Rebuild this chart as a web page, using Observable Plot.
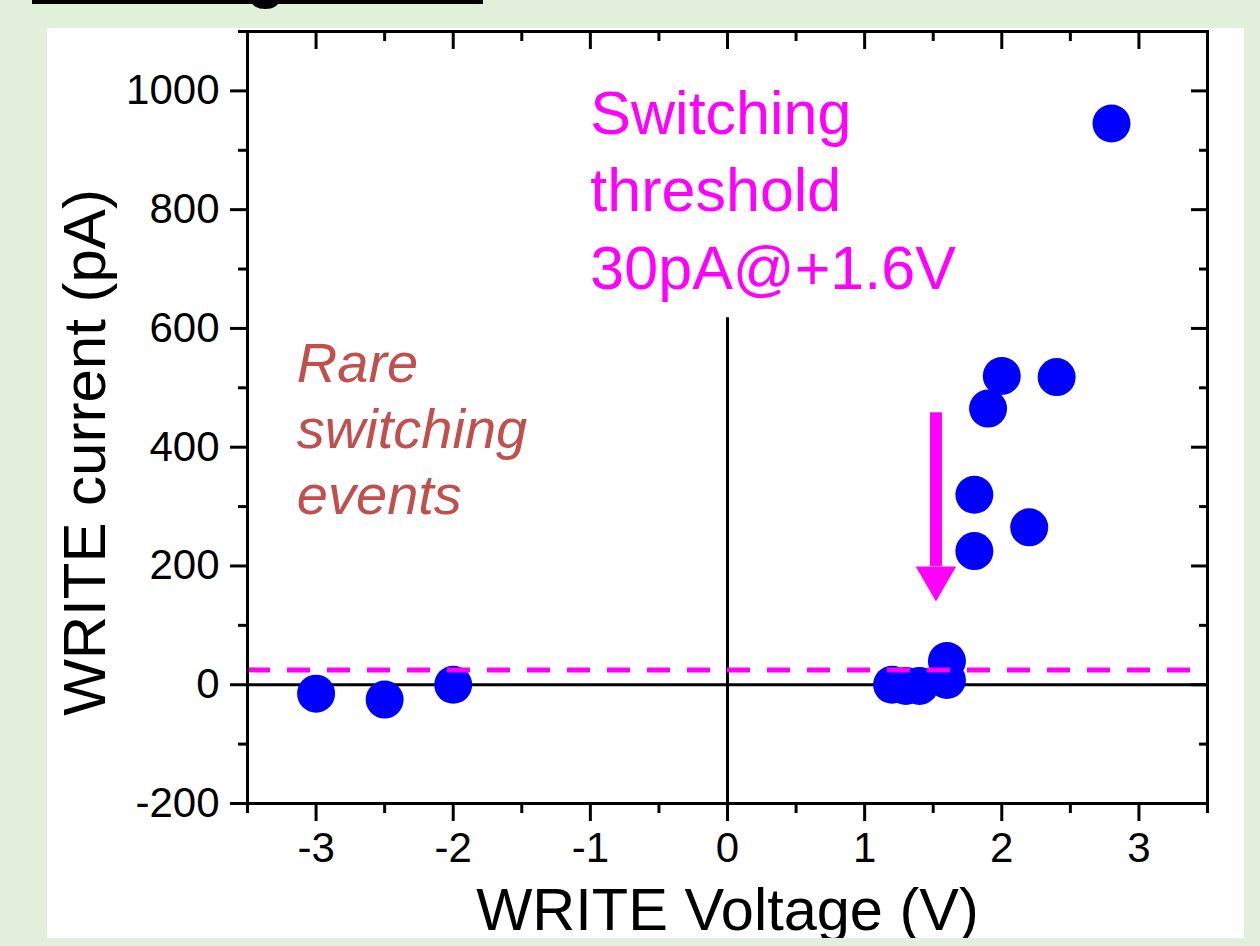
<!DOCTYPE html>
<html><head><meta charset="utf-8">
<script src="https://cdn.jsdelivr.net/npm/d3@7"></script>
<script src="https://cdn.jsdelivr.net/npm/@observablehq/plot@0.6"></script>
<style>
html,body{margin:0;padding:0;width:1260px;height:946px;overflow:hidden;background:#e2efda;font-family:"Liberation Sans",Arial,sans-serif;}
#headline{position:absolute;left:32px;top:-60px;width:451px;height:60px;border-bottom:4px solid #000;}
#headsvg{position:absolute;left:0;top:0;}
#panel{position:absolute;left:47px;top:28px;width:1197px;height:910px;background:#fff;overflow:hidden;}
#chart{position:absolute;left:-47px;top:-28px;width:1260px;height:946px;}
#chart svg{max-width:none !important;width:1260px;height:946px;}
</style></head><body>
<div id="headline"></div>
<svg id="headsvg" width="500" height="20"><text x="266" y="-4" font-family="Liberation Sans, Arial, sans-serif" font-weight="bold" font-size="62" text-anchor="middle">g</text></svg>
<div id="panel"><div id="chart"></div></div>
<script>
// ---- data ----
const voltage = [-3, -2.5, -2, 1.2, 1.3, 1.4, 1.6, 1.6, 1.8, 1.8, 1.9, 2.0, 2.2, 2.4, 2.8];
const current = [-15, -25, 0, 0, -2, -2, 8, 40, 225, 320, 465, 520, 265, 518, 945];
const threshold = [25];
const arrowX = [1.52];
const arrowTop = [458];
const arrowBase = [199];
const arrowTip = [140];
const zeroV = [0];
const zeroVTop = [618];
const xMajorTicks = [-3, -2, -1, 0, 1, 2, 3];
const xMinorTicks = [-3.5, -2.5, -1.5, -0.5, 0.5, 1.5, 2.5, 3.5];
const yMajorTicks = [-200, 0, 200, 400, 600, 800, 1000];
const yMinorTicks = [-100, 100, 300, 500, 700, 900, 1100];
const xDomain = [-3.5, 3.5];
const yDomain = [-200, 1100];
const xTitle = "WRITE Voltage (V)";
const yTitle = "WRITE current (pA)";
const thresholdText = ["Switching\nthreshold\n30pA@+1.6V"];
const thresholdTextPos = {x: -1.0, y: 1020};
const rareText = ["Rare\nswitching\nevents"];
const rareTextPos = {x: -3.14, y: 589};

const points = voltage.map((v, i) => ({v, c: current[i]}));
const arrowShaft = arrowX.map((x, i) => ({x, y1: arrowTop[i], y2: arrowBase[i]}));
const arrowHead = arrowX.map((x, i) => ({x, y: arrowTip[i] + (arrowBase[i] - arrowTip[i]) * 2 / 3}));
const vLine = zeroV.map((x, i) => ({x, y1: yDomain[0], y2: zeroVTop[i]}));

const FONT = "Liberation Sans, Arial, sans-serif";
const MAGENTA = "#ff00ff";

const chart = Plot.plot({
  width: 1260,
  height: 946,
  marginLeft: 247,
  marginRight: 53,
  marginTop: 31,
  marginBottom: 143,
  style: {background: "transparent", fontFamily: FONT, fontSize: "42px", color: "#000", overflow: "visible"},
  x: {domain: xDomain},
  y: {domain: yDomain},
  marks: [
    Plot.ruleY([0], {stroke: "#000", strokeWidth: 3}),
    Plot.ruleX(vLine, {x: "x", y1: "y1", y2: "y2", stroke: "#000", strokeWidth: 3}),
    Plot.dot(points, {x: "v", y: "c", r: 19, fill: "#0000ff", stroke: "none"}),
    Plot.ruleY(threshold, {stroke: MAGENTA, strokeWidth: 5, strokeDasharray: "23,17"}),
    Plot.ruleX(arrowShaft, {x: "x", y1: "y1", y2: "y2", stroke: MAGENTA, strokeWidth: 12}),
    Plot.dot(arrowHead, {x: "x", y: "y", symbol: "triangle", r: 15, rotate: 180, fill: MAGENTA, stroke: "none"}),
    Plot.text(thresholdText, {x: () => thresholdTextPos.x, y: () => thresholdTextPos.y, text: d => d, textAnchor: "start", lineAnchor: "top", lineHeight: 1.27, fontSize: 61, fill: MAGENTA, fontFamily: FONT}),
    Plot.text(rareText, {x: () => rareTextPos.x, y: () => rareTextPos.y, text: d => d, textAnchor: "start", lineAnchor: "top", lineHeight: 1.18, fontSize: 56, fontStyle: "italic", fill: "#c0504d", fontFamily: FONT}),
    // axes
    Plot.axisX({anchor: "bottom", ticks: xMajorTicks, tickSize: 18, tickPadding: 11, strokeWidth: 3, fontSize: 42, tickFormat: d => String(d), label: null}),
    Plot.axisX({anchor: "bottom", ticks: xMinorTicks, tickSize: 10, strokeWidth: 3, text: null, label: null}),
    Plot.axisX({anchor: "top", ticks: xMajorTicks, tickSize: -17, strokeWidth: 3, text: null, label: null}),
    Plot.axisX({anchor: "top", ticks: xMinorTicks, tickSize: -9, strokeWidth: 3, text: null, label: null}),
    Plot.axisY({anchor: "left", ticks: yMajorTicks, tickSize: 17, tickPadding: 11, strokeWidth: 3, fontSize: 42, tickFormat: d => String(d), label: null}),
    Plot.axisY({anchor: "left", ticks: yMinorTicks, tickSize: 9, strokeWidth: 3, text: null, label: null}),
    Plot.axisY({anchor: "right", ticks: yMajorTicks, tickSize: -17, strokeWidth: 3, text: null, label: null}),
    Plot.axisY({anchor: "right", ticks: yMinorTicks, tickSize: -9, strokeWidth: 3, text: null, label: null}),
    Plot.frame({stroke: "#000", strokeWidth: 3}),
    Plot.text([xTitle], {frameAnchor: "bottom", text: d => d, textAnchor: "middle", lineAnchor: "middle", dy: 107, fontSize: 59.5, fill: "#000", fontFamily: FONT}),
    Plot.text([yTitle], {frameAnchor: "left", text: d => d, textAnchor: "middle", lineAnchor: "middle", rotate: -90, dx: -162, dy: 35, fontSize: 60, fill: "#000", fontFamily: FONT})
  ]
});
document.getElementById("chart").appendChild(chart);
</script>
</body></html>
